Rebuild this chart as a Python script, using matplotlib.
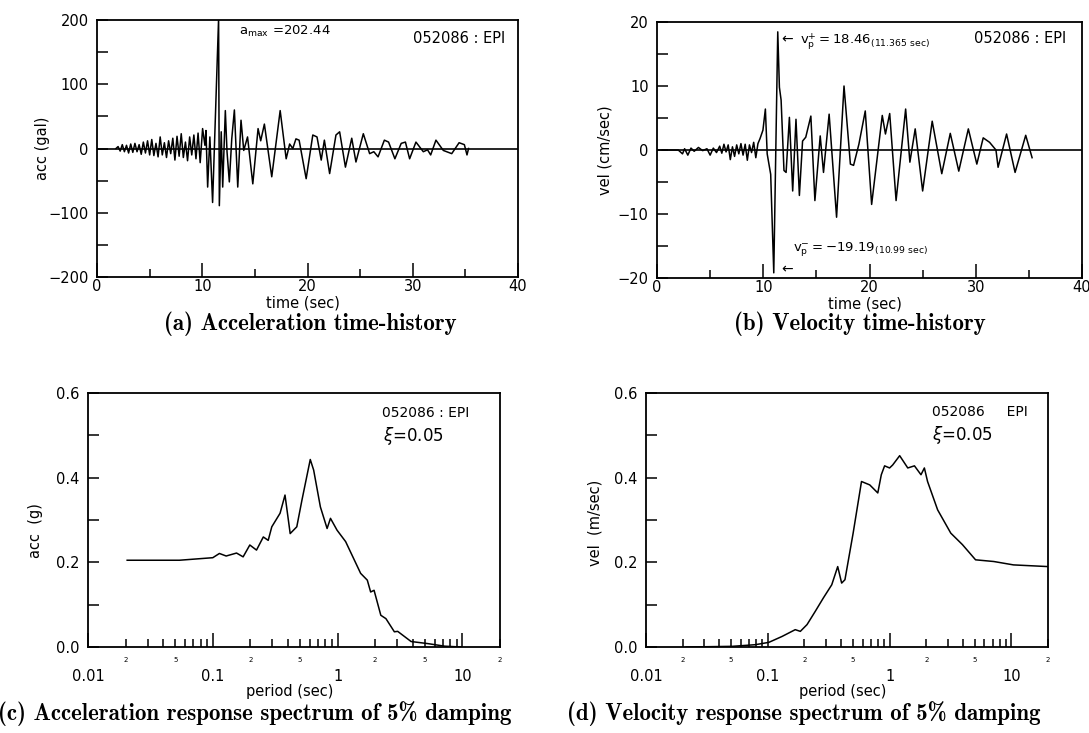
import matplotlib
matplotlib.use("Agg")
import matplotlib.pyplot as plt
from matplotlib.ticker import MultipleLocator, FixedLocator, FixedFormatter, FuncFormatter, FormatStrFormatter

plt.rcParams['font.family'] = 'DejaVu Sans'
plt.rcParams['font.size'] = 10.5
plt.rcParams['axes.unicode_minus'] = True

# (a) acceleration time-history, turning points (sec, gal)
acc_t = [1.8, 2.0, 2.2, 2.4, 2.6, 2.8, 3.0, 3.2, 3.4, 3.6, 3.8, 4.0, 4.2, 4.4, 4.6,
         4.8, 5.0, 5.2, 5.4, 5.6, 5.8, 6.0, 6.2, 6.4, 6.6, 6.8, 7.0, 7.2, 7.4, 7.6,
         7.8, 8.0, 8.2, 8.4, 8.6, 8.8, 9.0, 9.2, 9.4, 9.6, 9.8, 10.03, 10.25, 10.35,
         10.51, 10.72, 10.98, 11.55, 11.62, 11.8, 11.94, 12.19, 12.35, 12.57, 12.8,
         13.05, 13.37, 13.68, 13.94, 14.3, 14.8, 15.3, 15.55, 15.9, 16.6, 17.4, 17.97,
         18.3, 18.6, 18.9, 19.2, 19.87, 20.5, 20.9, 21.3, 21.6, 22.1, 22.7, 23.05,
         23.6, 24.2, 24.6, 25.3, 25.9, 26.3, 26.7, 27.3, 27.7, 28.3, 28.9, 29.3,
         29.7, 30.3, 31.0, 31.4, 31.7, 32.2, 32.9, 33.7, 34.4, 34.9, 35.15, 35.3]
acc_v = [0, 3, -4, 6, -5, 5, -7, 7, -6, 8, -5, 6, -9, 10, -7,
         12, -10, 14, -11, 8, -13, 18, -10, 9, -14, 12, -8, 16, -18, 19,
         -12, 23, -14, 10, -19, 18, -10, 21, -16, 24, -22, 31, 5, 28,
         -60, 18, -84, 202.44, -89, 26, -60, 59, -5, -52, 15,
         60, -60, 44, -3, 18, -55, 31, 12, 38, -44, 59, -16,
         7, 0, 15, 13, -47, 21, 18, -18, 13, -39, 21, 26,
         -29, 16, -21, 23, -8, -5, -13, 13, 10, -16, 8, 10,
         -16, 10, -5, -2, -10, 13, -3, -8, 9, 6, -10, 0]

# (b) velocity time-history (sec, cm/sec)
vel_t = [0.5, 2.0, 2.4, 2.6, 2.9, 3.2, 3.5, 3.9, 4.3, 4.7, 5.0, 5.3, 5.6, 5.9, 6.1,
         6.3, 6.5, 6.7, 6.9, 7.1, 7.3, 7.5, 7.7, 7.9, 8.1, 8.3, 8.5, 8.7, 8.9, 9.1,
         9.3, 9.5, 9.7, 9.97, 10.2, 10.37, 10.7, 10.99, 11.365, 11.52, 11.68, 11.95,
         12.15, 12.46, 12.77, 13.08, 13.4, 13.7, 14.0, 14.48, 14.86, 15.36, 15.67,
         16.2, 16.9, 17.6, 18.2, 18.5, 19.0, 19.6, 20.2, 21.2, 21.5, 21.9, 22.5,
         23.4, 23.8, 24.3, 25.0, 25.9, 26.8, 27.6, 28.4, 29.3, 30.1, 30.7, 31.3,
         31.9, 32.1, 32.9, 33.7, 34.7, 35.3]
vel_v = [0, 0, -0.6, 0.2, -0.8, 0.3, -0.2, 0.4, -0.1, 0.2, -0.8, 0.3, -0.4, 0.6, -0.5,
         0.9, -0.3, 0.8, -1.5, 0.5, -1.0, 0.8, -0.6, 1.0, -0.8, 0.9, -1.6, 0.8, -0.4, 1.2,
         -1.2, 1.0, 1.8, 3.1, 6.4, -0.6, -3.8, -19.19, 18.46, 9.8, 7.8, -3.2,
         -3.5, 5.1, -6.4, 4.8, -7.1, 1.4, 2.0, 5.3, -7.9, 2.2, -3.5,
         5.6, -10.5, 10.0, -2.2, -2.4, 0.9, 6.1, -8.5, 5.4, 2.5, 5.7, -7.9,
         6.4, -1.9, 3.3, -6.4, 4.5, -3.7, 2.6, -3.3, 3.3, -2.2, 1.9, 1.2,
         0.0, -2.7, 2.5, -3.5, 2.3, -1.2]

# (c) acceleration response spectrum (sec, g)
sa_T = [0.0206, 0.054, 0.1, 0.113, 0.128, 0.155, 0.175, 0.198, 0.224, 0.254, 0.278,
        0.297, 0.346, 0.379, 0.417, 0.471, 0.518, 0.604, 0.643, 0.728, 0.824, 0.877,
        0.99, 1.16, 1.53, 1.73, 1.84, 1.96, 2.22, 2.44, 2.85, 3.03, 3.88, 5.3, 7.2, 9.8]
sa_v = [0.205, 0.205, 0.211, 0.221, 0.215, 0.222, 0.213, 0.241, 0.229, 0.26, 0.252,
        0.284, 0.316, 0.359, 0.268, 0.284, 0.347, 0.443, 0.418, 0.331, 0.28, 0.304,
        0.276, 0.249, 0.174, 0.158, 0.13, 0.134, 0.075, 0.067, 0.036, 0.037, 0.013,
        0.008, 0.002, 0.0]

# (d) velocity response spectrum (sec, m/sec)
sv_T = [0.0214, 0.051, 0.079, 0.102, 0.131, 0.168, 0.185, 0.21, 0.245, 0.286, 0.335,
        0.375, 0.404, 0.43, 0.502, 0.588, 0.687, 0.80, 0.855, 0.91, 1.0, 1.06, 1.21,
        1.41, 1.6, 1.81, 1.93, 2.05, 2.48, 3.18, 3.96, 5.08, 7.17, 10.4, 20.0]
sv_v = [0.0, 0.0016, 0.0055, 0.011, 0.025, 0.041, 0.037, 0.053, 0.084, 0.116, 0.147,
        0.19, 0.151, 0.159, 0.269, 0.391, 0.383, 0.364, 0.407, 0.428, 0.423, 0.43, 0.452,
        0.423, 0.428, 0.407, 0.423, 0.391, 0.324, 0.269, 0.242, 0.206, 0.202, 0.194, 0.19]

fig = plt.figure(figsize=(10.89, 7.33), dpi=100)
ax_a = fig.add_axes([0.0891, 0.6221, 0.3866, 0.3506])
ax_b = fig.add_axes([0.6033, 0.6207, 0.3903, 0.3493])
ax_c = fig.add_axes([0.0808, 0.1173, 0.3783, 0.3465])
ax_d = fig.add_axes([0.5932, 0.1173, 0.3692, 0.3465])


def frame(ax):
    for s in ax.spines.values():
        s.set_linewidth(1.3)
    ax.tick_params(which='both', direction='in', top=False, right=False, width=1.1)


def time_axes(ax, lim, major, minor):
    frame(ax)
    ax.set_xlim(0, 40)
    ax.set_ylim(-lim, lim)
    ax.xaxis.set_major_locator(MultipleLocator(10))
    ax.xaxis.set_minor_locator(MultipleLocator(5))
    ax.yaxis.set_major_locator(MultipleLocator(major))
    ax.yaxis.set_minor_locator(MultipleLocator(minor))
    ax.tick_params(axis='x', which='major', length=10, pad=1.5)
    ax.tick_params(axis='x', which='minor', length=6)
    ax.tick_params(axis='y', which='both', length=8, pad=6)
    ax.axhline(0, color='black', lw=1.2)
    ax.set_xlabel('time (sec)')
    ax.xaxis.set_label_coords(0.49, -0.072)


def minor_lab(x, pos):
    s = '%.0e' % x
    return s[0] if s[0] in '25' else ''


def spec_axes(ax):
    frame(ax)
    ax.set_xscale('log')
    ax.set_xlim(0.01, 20)
    ax.set_ylim(0, 0.6)
    ax.xaxis.set_major_locator(FixedLocator([0.01, 0.1, 1, 10]))
    ax.xaxis.set_major_formatter(FixedFormatter(['0.01', '0.1', '1', '10']))
    subs = [k * 10.0 ** e for e in (-2, -1, 0) for k in range(2, 10)] + [20]
    ax.xaxis.set_minor_locator(FixedLocator(subs))
    ax.xaxis.set_minor_formatter(FuncFormatter(minor_lab))
    ax.tick_params(axis='x', which='major', length=10, pad=16)
    ax.tick_params(axis='x', which='minor', length=6, pad=7, labelsize=5)
    ax.yaxis.set_major_locator(MultipleLocator(0.2))
    ax.yaxis.set_minor_locator(MultipleLocator(0.1))
    ax.yaxis.set_major_formatter(FormatStrFormatter('%.1f'))
    ax.tick_params(axis='y', which='both', length=8, pad=6)
    ax.set_xlabel('period (sec)')
    ax.xaxis.set_label_coords(0.49, -0.145)


# (a)
time_axes(ax_a, 200, 100, 50)
ax_a.plot(acc_t, acc_v, color='black', lw=1.1)
ax_a.set_ylabel('acc (gal)')
ax_a.yaxis.set_label_coords(-0.112, 0.5)
ax_a.text(13.5, 182, r'$\mathregular{a_{max}}$ =202.44', fontsize=9.5, va='center')
ax_a.text(38.8, 172, '052086 : EPI', ha='right', va='center')

# (b)
time_axes(ax_b, 20, 10, 5)
ax_b.plot(vel_t, vel_v, color='black', lw=1.1)
ax_b.set_ylabel('vel (cm/sec)')
ax_b.yaxis.set_label_coords(-0.104, 0.5)
ax_b.text(11.7, 17.2, '\u2190', va='center', fontsize=10)
ax_b.text(13.5, 17.0, r'$\mathregular{v^{+}_{p}=18.46_{(11.365\ sec)}}$', va='center', fontsize=9.5)
ax_b.text(11.7, -18.6, '\u2190', va='center', fontsize=10)
ax_b.text(12.8, -15.6, r'$\mathregular{v^{-}_{p}=-19.19_{(10.99\ sec)}}$', va='center', fontsize=9.5)
ax_b.text(38.5, 17.4, '052086 : EPI', ha='right', va='center')

# (c)
spec_axes(ax_c)
ax_c.plot(sa_T, sa_v, color='black', lw=1.1)
ax_c.set_ylabel('acc  (g)')
ax_c.yaxis.set_label_coords(-0.109, 0.46)
ax_c.text(0.714, 0.921, '052086 : EPI', transform=ax_c.transAxes, va='center', fontsize=10)
ax_c.text(0.716, 0.831, r'$\xi$=0.05', transform=ax_c.transAxes, va='center', fontsize=12)

# (d)
spec_axes(ax_d)
ax_d.plot(sv_T, sv_v, color='black', lw=1.1)
ax_d.set_ylabel('vel  (m/sec)')
ax_d.yaxis.set_label_coords(-0.109, 0.49)
ax_d.text(0.711, 0.925, '052086     EPI', transform=ax_d.transAxes, va='center', fontsize=10)
ax_d.text(0.711, 0.835, r'$\xi$=0.05', transform=ax_d.transAxes, va='center', fontsize=12)

cap = dict(family=['cmb10', 'DejaVu Serif'], fontsize=16.5, ha='center', va='center')
fig.text(0.285, 0.559, '(a) Acceleration time-history', **cap)
fig.text(0.79, 0.559, '(b) Velocity time-history', **cap)
fig.text(0.234, 0.027, '(c) Acceleration response spectrum of 5% damping', **cap)
fig.text(0.738, 0.027, '(d) Velocity response spectrum of 5% damping', **cap)

fig.savefig('out.png', dpi=100)
